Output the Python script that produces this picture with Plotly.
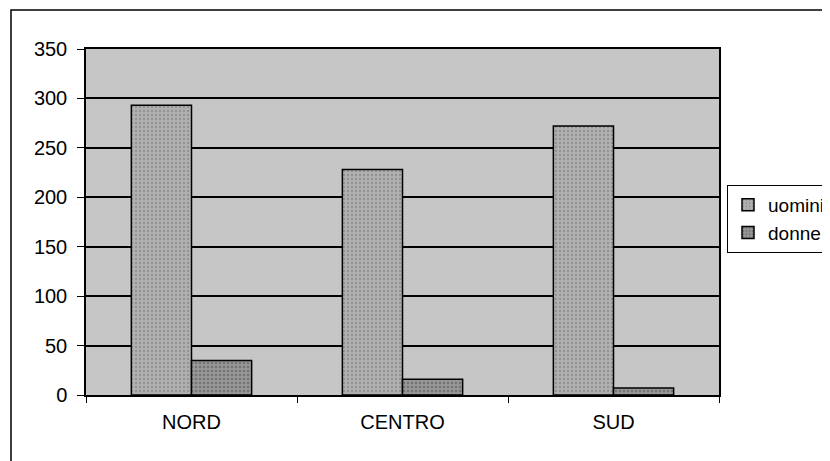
import plotly.graph_objects as go

categories = ["NORD", "CENTRO", "SUD"]
uomini = [293, 228, 272]
donne = [35, 16, 7]
y_ticks = [0, 50, 100, 150, 200, 250, 300, 350]

# page body has an 8px margin; compensate so marks land where they are in the reference
OFF = 8
W, H = 830, 461
L, T, R, B = 86 - OFF, 49 - OFF, 719 - OFF, 395 - OFF
pw, ph = R - L, B - T

fig = go.Figure()
fig.add_trace(go.Bar(
    x=categories, y=uomini, name="uomini",
    marker=dict(color="#a9a9a9", line=dict(color="black", width=1.5),
                pattern=dict(shape=".", fgcolor="#6f6f6f", bgcolor="#b0b0b0", size=4, solidity=0.25)),
))
fig.add_trace(go.Bar(
    x=categories, y=donne, name="donne",
    marker=dict(color="#8e8e8e", line=dict(color="black", width=1.5),
                pattern=dict(shape=".", fgcolor="#4f4f4f", bgcolor="#989898", size=4, solidity=0.35)),
))

font = dict(family="Liberation Sans, Arial, sans-serif", size=20, color="black")
legend_font = dict(family="Liberation Sans, Arial, sans-serif", size=19, color="black")

fig.update_layout(
    width=W, height=H,
    margin=dict(l=L, r=W - R, t=T, b=H - B, autoexpand=False),
    paper_bgcolor="white",
    plot_bgcolor="#c6c6c6",
    barmode="group", bargap=0.43, bargroupgap=0,
    font=font,
    showlegend=True,
    legend=dict(x=(727 - 86) / 633, y=(395 - 185) / 346, xanchor="left", yanchor="top",
                bgcolor="white", bordercolor="black", borderwidth=1,
                font=legend_font, itemwidth=30, tracegroupgap=6),
    xaxis=dict(type="category", showgrid=False, showline=True, linecolor="black", linewidth=1.5,
               mirror=True, ticks="outside", tickson="boundaries", ticklen=6, tickcolor="black",
               tickfont=font, ticklabelstandoff=8),
    yaxis=dict(range=[0, 350], tickvals=y_ticks, showgrid=True, gridcolor="black", gridwidth=1.5,
               showline=True, linecolor="black", linewidth=1.5, mirror=True,
               ticks="outside", ticklen=7, tickcolor="black", tickfont=font, zeroline=False,
               ticklabelstandoff=6),
    shapes=[dict(type="rect", xref="paper", yref="paper",
                 x0=(11 - 86) / 633, x1=1.4, y0=-0.4, y1=(395 - 10) / 346,
                 line=dict(color="black", width=1.5), layer="below")],
)

fig.write_html("out.html")
